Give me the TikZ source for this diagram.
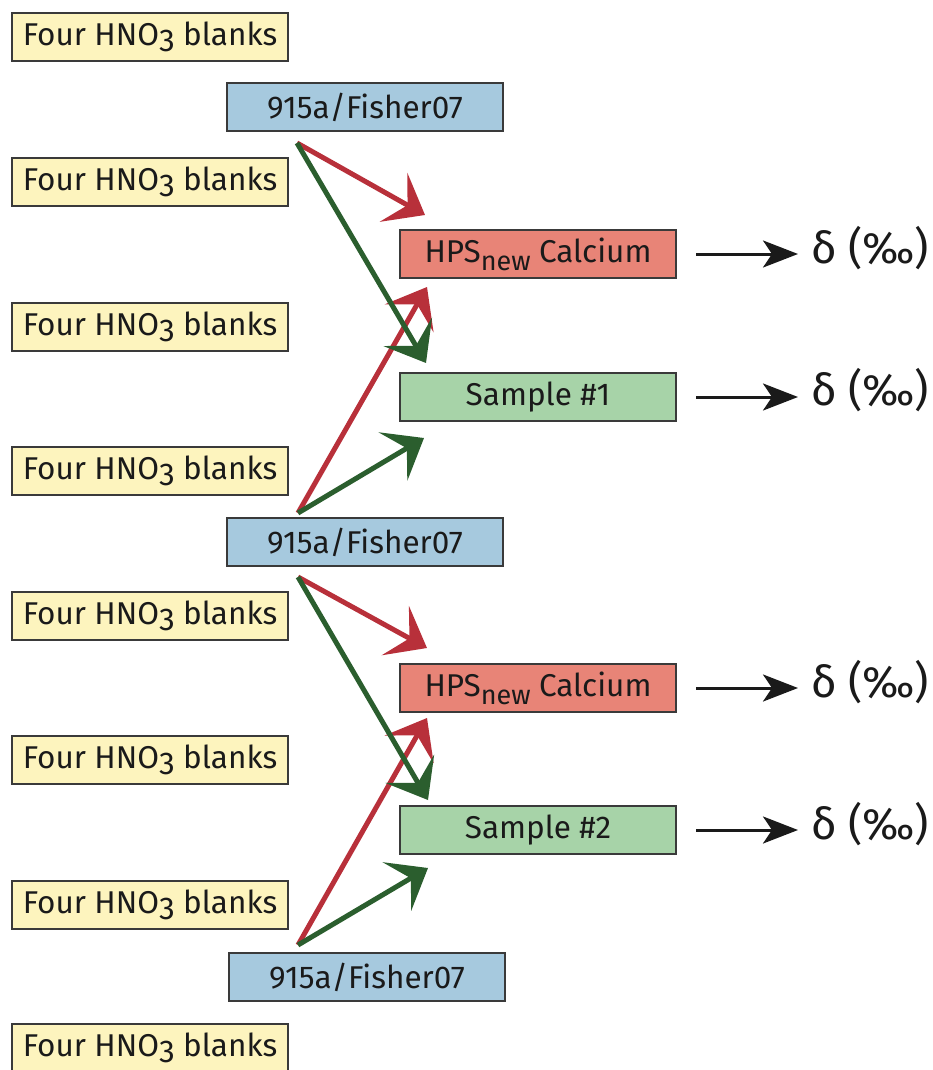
\documentclass[tikz,border=0pt]{standalone}
\usepackage{fontspec}
\setmainfont{Fira Sans}
\newfontfamily\deltafont{Fira Sans}
\usetikzlibrary{arrows.meta}

\definecolor{blankfill}{HTML}{FDF4BE}
\definecolor{stdfill}{HTML}{A6C9DE}
\definecolor{hpsfill}{HTML}{E88477}
\definecolor{smpfill}{HTML}{A7D3A8}
\definecolor{boxline}{HTML}{3A3A3A}
\definecolor{labeltext}{HTML}{1A1A1A}
\definecolor{redarrow}{HTML}{B8303A}
\definecolor{greenarrow}{HTML}{2B5E2E}

\newcommand{\hno}{Four HNO\raisebox{-0.18em}{3} blanks}
\newcommand{\hps}{HPS\raisebox{-0.25em}{\fontsize{27}{27}\selectfont new} Calcium}

\tikzset{
  box/.style={draw=boxline, line width=2pt, minimum width=276pt,
    minimum height=48pt, inner sep=0pt, text=labeltext,
    font=\fontsize{31.5}{34}\selectfont},
  blank/.style={box, fill=blankfill},
  std/.style={box, fill=stdfill},
  hpsbox/.style={box, fill=hpsfill},
  smpbox/.style={box, fill=smpfill},
  feed/.style={line width=5pt, -{Stealth[length=36pt,width=56pt,inset=16pt]}},
  redfeed/.style={feed, color=redarrow},
  greenfeed/.style={feed, color=greenarrow},
  result/.style={line width=3pt, color=labeltext,
    -{Stealth[length=35pt,width=27pt,inset=9pt]}},
  deltatext/.style={anchor=west, inner sep=0pt, text=labeltext,
    font=\deltafont\fontsize{44}{50}\selectfont}
}

\begin{document}
\begin{tikzpicture}[x=1pt, y=-1pt]
  \useasboundingbox (0,0) rectangle (932,1070);

  % blank runs on the left
  \node[blank] (y1) at (150,37)   {\hno};
  \node[blank] (y2) at (150,182)  {\hno};
  \node[blank] (y3) at (150,327)  {\hno};
  \node[blank] (y4) at (150,471)  {\hno};
  \node[blank] (y5) at (150,616)  {\hno};
  \node[blank] (y6) at (150,760)  {\hno};
  \node[blank] (y7) at (150,905)  {\hno};
  \node[blank] (y8) at (150,1048) {\hno};

  % bracketing standards
  \node[std] (b1) at (365,107) {915a/Fisher07};
  \node[std] (b2) at (365,542) {915a/Fisher07};
  \node[std] (b3) at (367,977) {915a/Fisher07};

  % measured materials
  \node[hpsbox] (h1) at (538,254) {\hps};
  \node[smpbox] (s1) at (538,397) {Sample \#1};
  \node[hpsbox] (h2) at (538,688) {\hps};
  \node[smpbox] (s2) at (538,830) {Sample \#2};

  % delta results
  \node[deltatext] (d1) at (811,248) {δ (‰)};
  \node[deltatext] (d2) at (811,390) {δ (‰)};
  \node[deltatext] (d3) at (811,682) {δ (‰)};
  \node[deltatext] (d4) at (811,824) {δ (‰)};

  % arrow origins next to the standards
  \coordinate (o1) at (297,143);
  \coordinate (o2) at (298,513);
  \coordinate (o3) at (298,577);
  \coordinate (o4) at (298,945);

  % arrow tips next to the measured boxes
  \coordinate (th1a) at (425,215);
  \coordinate (th1b) at (427,287);
  \coordinate (ts1a) at (426,363);
  \coordinate (ts1b) at (424,438);
  \coordinate (th2a) at (427,648);
  \coordinate (th2b) at (427,718);
  \coordinate (ts2a) at (428,800);
  \coordinate (ts2b) at (428,868);

  % standard-to-sample links
  \draw[redfeed]   (o1) -- (th1a);
  \draw[redfeed]   (o2) -- (th1b);
  \draw[greenfeed] (o2) -- (ts1b);
  \draw[greenfeed] (o1) -- (ts1a);

  \draw[redfeed]   (o3) -- (th2a);
  \draw[redfeed]   (o4) -- (th2b);
  \draw[greenfeed] (o4) -- (ts2b);
  \draw[greenfeed] (o3) -- (ts2a);

  % result arrows
  \draw[result] ([xshift=19pt]h1.east) -- ([xshift=-13pt]d1.west |- h1.east);
  \draw[result] ([xshift=19pt]s1.east) -- ([xshift=-13pt]d2.west |- s1.east);
  \draw[result] ([xshift=19pt]h2.east) -- ([xshift=-13pt]d3.west |- h2.east);
  \draw[result] ([xshift=19pt]s2.east) -- ([xshift=-13pt]d4.west |- s2.east);
\end{tikzpicture}
\end{document}
